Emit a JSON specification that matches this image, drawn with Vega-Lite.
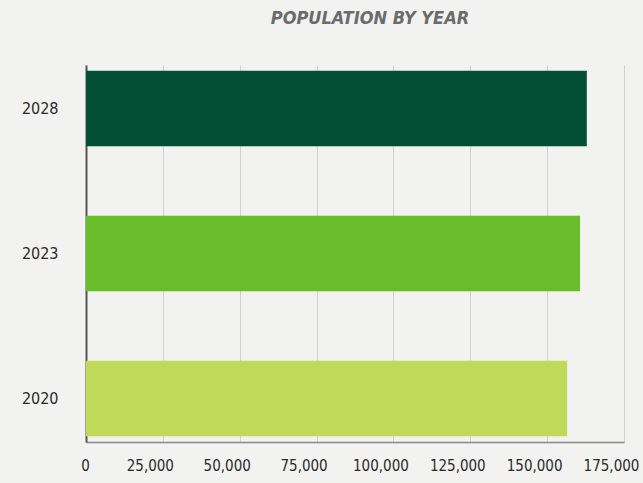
{
  "$schema": "https://vega.github.io/schema/vega-lite/v6.json",
  "width": 538,
  "height": 377,
  "autosize": {"type": "none"},
  "padding": {"left": 86, "top": 65, "right": 19, "bottom": 41},
  "background": "#f2f2f0",
  "title": {
    "text": "POPULATION BY YEAR",
    "font": "DejaVu Sans Condensed, sans-serif",
    "fontSize": 18,
    "fontStyle": "italic",
    "fontWeight": "bold",
    "color": "#6b6b6b",
    "anchor": "middle",
    "dx": 15,
    "offset": 37
  },
  "data": {
    "values": [
      {"year": "2028", "population": 162900},
      {"year": "2023", "population": 160700},
      {"year": "2020", "population": 156500}
    ]
  },
  "mark": {"type": "bar"},
  "encoding": {
    "y": {
      "field": "year",
      "type": "nominal",
      "sort": ["2028", "2023", "2020"],
      "scale": {"paddingInner": 0.48, "paddingOuter": 0.04},
      "axis": {
        "title": null,
        "ticks": false,
        "grid": false,
        "domainColor": "#555555",
        "domainWidth": 2,
        "labelFont": "DejaVu Sans Condensed, sans-serif",
        "labelFontSize": 16,
        "labelColor": "#2a2a2a",
        "labelPadding": 28
      }
    },
    "x": {
      "field": "population",
      "type": "quantitative",
      "scale": {"domain": [0, 175000], "nice": false},
      "axis": {
        "title": null,
        "values": [0, 25000, 50000, 75000, 100000, 125000, 150000, 175000],
        "format": ",.0f",
        "ticks": false,
        "grid": true,
        "gridColor": "#d0d0d0",
        "gridWidth": 1,
        "domainColor": "#888888",
        "domainWidth": 1.5,
        "labelFont": "DejaVu Sans Condensed, sans-serif",
        "labelFontSize": 15,
        "labelColor": "#2a2a2a",
        "labelPadding": 16,
        "labelFlush": false,
        "labelOverlap": false,
        "labelOffset": {"condition": {"test": "datum.value == 0", "value": -1}, "value": -13}
      }
    },
    "color": {
      "field": "year",
      "type": "nominal",
      "scale": {"domain": ["2028", "2023", "2020"], "range": ["#024f35", "#6abd2a", "#c0d959"]},
      "legend": null
    }
  },
  "config": {
    "view": {"stroke": null}
  }
}
